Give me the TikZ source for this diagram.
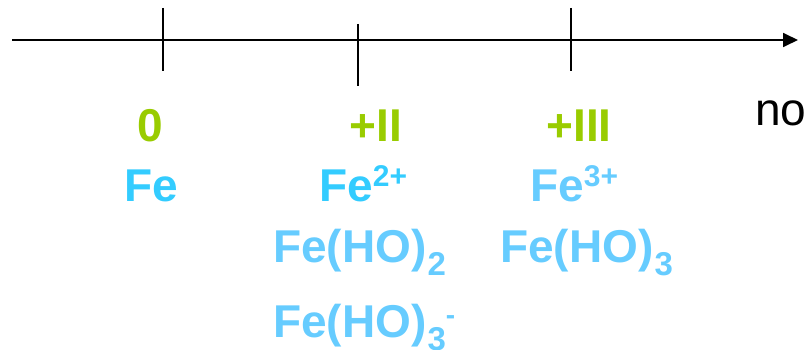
\documentclass[tikz,border=0pt]{standalone}
\usepackage{fontspec}
\setmainfont{Liberation Sans}
\usetikzlibrary{arrows.meta}
\definecolor{ongreen}{HTML}{99CC00}
\definecolor{ionblue}{HTML}{33CCFF}
\definecolor{hydblue}{HTML}{66CCFF}
\newcommand\chup[1]{\raisebox{16pt}{\fontsize{30}{30}\selectfont #1}}
\newcommand\chdn[1]{\kern1pt\raisebox{-13pt}{\fontsize{33}{33}\selectfont #1}}
\newcommand\chmin{\raisebox{13pt}{\fontsize{28}{28}\selectfont -}}
\tikzset{
  lbl/.style={inner sep=0pt, font=\fontsize{46}{46}\selectfont\bfseries},
  oxno/.style={lbl, text=ongreen, anchor=base},
  ion/.style={lbl, text=ionblue, anchor=base west},
  hyd/.style={lbl, text=hydblue, anchor=base west},
  axisline/.style={line width=1.8pt, -{Triangle[length=15pt,width=14pt]}},
  tickline/.style={line width=1.6pt}
}
\begin{document}
\begin{tikzpicture}[x=1pt,y=-1pt]
\useasboundingbox (0,0) rectangle (812,350);
\coordinate (axs) at (12,40);
\coordinate (axe) at (798,40);
\draw[axisline] (axs) -- (axe);
\coordinate (t1a) at (163,8);  \coordinate (t1b) at (163,71);
\coordinate (t2a) at (358,24); \coordinate (t2b) at (358,86);
\coordinate (t3a) at (571,8);  \coordinate (t3b) at (571,71);
\draw[tickline] (t1a) -- (t1b);
\draw[tickline] (t2a) -- (t2b);
\draw[tickline] (t3a) -- (t3b);
\node[oxno] (o0) at (150,142) {0};
\node[oxno] (o2) at (376,142) {+II};
\node[oxno] (o3) at (579,142) {+III};
\node[lbl, text=ionblue, anchor=base] (fe) at (151,202) {Fe};
\node[ion] (fe2) at (319,202) {Fe\chup{2+}};
\node[hyd] (fe3) at (530,202) {Fe\chup{3+}};
\node[hyd] (feoh2) at (273,262) {Fe(HO)\chdn{2}};
\node[hyd] (feoh3m) at (273,337) {Fe(HO)\chdn{3}\chmin};
\node[hyd] (feoh3) at (500,262) {Fe(HO)\chdn{3}};
\node[inner sep=0pt, anchor=base west, font=\fontsize{46}{46}\selectfont] (no) at (755,126) {no};
\end{tikzpicture}
\end{document}
